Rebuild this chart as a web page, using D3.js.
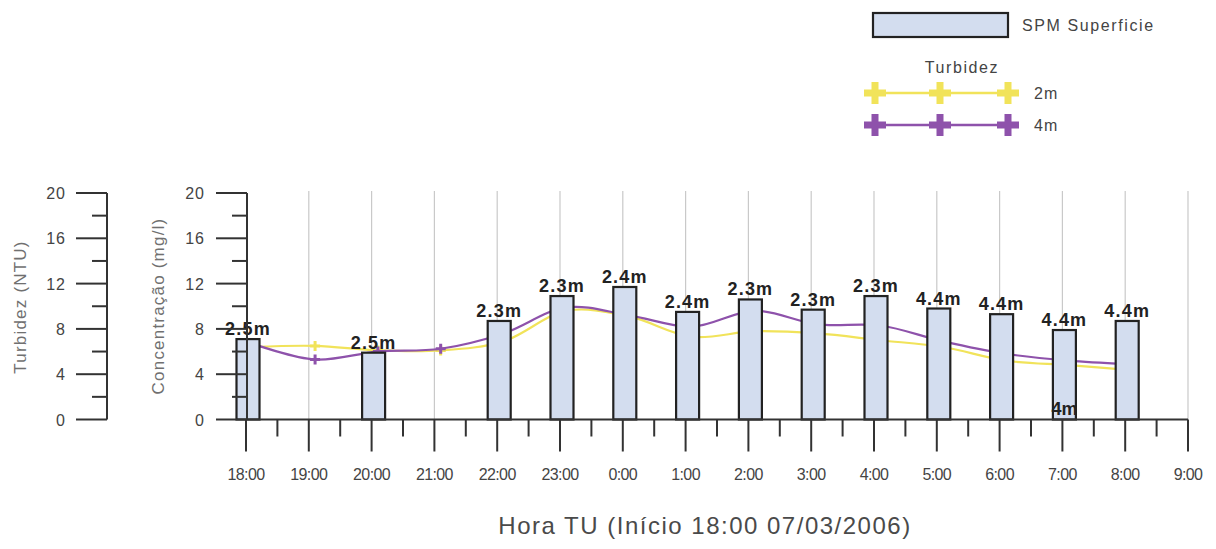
<!DOCTYPE html>
<html>
<head>
<meta charset="utf-8">
<script src="https://cdn.jsdelivr.net/npm/d3@7"></script>
<style>
  html, body { margin: 0; padding: 0; background: #ffffff; }
  svg { display: block; font-family: "Liberation Sans", Arial, sans-serif; }
</style>
</head>
<body>
<svg id="chart" width="1216" height="549"></svg>
<script>
// ---- data ----
const hourLabels = ["18:00","19:00","20:00","21:00","22:00","23:00","0:00","1:00","2:00","3:00","4:00","5:00","6:00","7:00","8:00","9:00"];
const spmValues  = [7.1, null, 5.9, null, 8.7, 10.9, 11.7, 9.5, 10.6, 9.7, 10.9, 9.8, 9.3, 7.9, 8.7, null];
const depthLabels = ["2.5m", null, "2.5m", null, "2.3m", "2.3m", "2.4m", "2.4m", "2.3m", "2.3m", "2.3m", "4.4m", "4.4m", "4.4m", "4.4m", null];
const turbTimes = [0.1, 1.1, 2.1, 3.1, 4.1, 5.1, 6.1, 7.1, 8.1, 9.1, 10.1, 11.1, 12.1, 13.1, 14.0];
const turb2m = [6.4, 6.5, 6.1, 6.1, 6.9, 9.6, 9.1, 7.3, 7.8, 7.6, 7.0, 6.4, 5.2, 4.8, 4.4];
const turb4m = [6.7, 5.3, 6.0, 6.25, 7.6, 9.9, 9.2, 8.2, 9.6, 8.4, 8.3, 6.9, 5.8, 5.2, 4.9];
const yTicks = [0, 4, 8, 12, 16, 20];
const strayLabel = { index: 13, text: "4m" };

// ---- styles ----
const cBarFill = "#d3ddef", cBarStroke = "#222222";
const c2m = "#f1e35a", c4m = "#8e52ab";
const cGrid = "#c9c9c9", cAxis = "#333333", cText = "#444444";

const svg = d3.select("#chart");
const x = d3.scaleLinear().domain([0, 15]).range([246, 1188]);
const y = d3.scaleLinear().domain([0, 20]).range([419.5, 193]);
const barW = 23;

// gridlines
svg.append("g").selectAll("line").data(d3.range(1, 16)).join("line")
  .attr("x1", d => x(d)).attr("x2", d => x(d))
  .attr("y1", y(20) - 2).attr("y2", y(0))
  .attr("stroke", cGrid).attr("stroke-width", 1.2);

// turbidity lines (behind bars)
function drawSeries(vals, color) {
  const pts = vals.map((v, i) => [turbTimes[i], v]);
  const line = d3.line().x(d => x(d[0])).y(d => y(d[1])).curve(d3.curveCatmullRom.alpha(0.5));
  svg.append("path").attr("d", line(pts)).attr("fill", "none")
    .attr("stroke", color).attr("stroke-width", 2.2);
  const g = svg.append("g");
  pts.forEach(d => {
    const cx = x(d[0]), cy = y(d[1]);
    g.append("path").attr("d", `M${cx-5},${cy}H${cx+5}M${cx},${cy-5}V${cy+5}`)
      .attr("stroke", color).attr("stroke-width", 3);
  });
}
drawSeries(turb2m, c2m);
drawSeries(turb4m, c4m);

// bars
const barData = spmValues.map((v, i) => ({ i, v })).filter(d => d.v != null);
svg.append("g").selectAll("rect").data(barData).join("rect")
  .attr("x", d => x(d.i) - barW / 2 + 2).attr("width", barW)
  .attr("y", d => y(d.v)).attr("height", d => y(0) - y(d.v))
  .attr("fill", cBarFill).attr("stroke", cBarStroke).attr("stroke-width", 2.2);

// bar labels
svg.append("g").selectAll("text").data(barData).join("text")
  .attr("x", d => x(d.i) + 2).attr("y", d => y(d.v) - 4)
  .attr("text-anchor", "middle").attr("font-size", 18).attr("font-weight", "bold")
  .attr("letter-spacing", 1.2).attr("fill", "#222").text(d => depthLabels[d.i]);
svg.append("text").attr("x", x(strayLabel.index) + 2).attr("y", y(0) - 5)
  .attr("text-anchor", "middle").attr("font-size", 18).attr("font-weight", "bold")
  .attr("fill", "#222").text(strayLabel.text);

// x axis
const gx = svg.append("g");
gx.append("line").attr("x1", x(0)).attr("x2", x(15)).attr("y1", y(0)).attr("y2", y(0))
  .attr("stroke", cAxis).attr("stroke-width", 2);
gx.selectAll("line.maj").data(d3.range(0, 16)).join("line").attr("class", "maj")
  .attr("x1", d => x(d)).attr("x2", d => x(d)).attr("y1", y(0)).attr("y2", y(0) + 32)
  .attr("stroke", cAxis).attr("stroke-width", 2);
gx.selectAll("line.min").data(d3.range(0.5, 15, 1)).join("line").attr("class", "min")
  .attr("x1", d => x(d)).attr("x2", d => x(d)).attr("y1", y(0)).attr("y2", y(0) + 17)
  .attr("stroke", cAxis).attr("stroke-width", 2);
gx.selectAll("text").data(hourLabels).join("text")
  .attr("x", (d, i) => x(i)).attr("y", 480)
  .attr("text-anchor", "middle").attr("font-size", 16).attr("letter-spacing", -0.6)
  .attr("fill", cText).text(d => d);
svg.append("text").attr("x", 705).attr("y", 534).attr("text-anchor", "middle")
  .attr("font-size", 24).attr("letter-spacing", 1.5).attr("fill", "#4a4a4a")
  .text("Hora TU (Início 18:00 07/03/2006)");

// y axes
function yAxis(ax, labelX, title, titleX, titleY) {
  const g = svg.append("g");
  g.append("line").attr("x1", ax).attr("x2", ax).attr("y1", y(20)).attr("y2", y(0))
    .attr("stroke", cAxis).attr("stroke-width", 2);
  g.selectAll("line.maj").data(yTicks).join("line").attr("class", "maj")
    .attr("x1", ax - 31).attr("x2", ax).attr("y1", d => y(d)).attr("y2", d => y(d))
    .attr("stroke", cAxis).attr("stroke-width", 2);
  g.selectAll("line.min").data(d3.range(2, 20, 4)).join("line").attr("class", "min")
    .attr("x1", ax - 15).attr("x2", ax).attr("y1", d => y(d)).attr("y2", d => y(d))
    .attr("stroke", cAxis).attr("stroke-width", 2);
  g.selectAll("text").data(yTicks).join("text")
    .attr("x", labelX).attr("y", d => y(d) + 6)
    .attr("text-anchor", "end").attr("font-size", 16).attr("letter-spacing", 1)
    .attr("fill", cText).text(d => d);
  svg.append("text").attr("transform", `translate(${titleX},${titleY}) rotate(-90)`)
    .attr("text-anchor", "middle").attr("font-size", 17).attr("letter-spacing", 1.2)
    .attr("fill", "#707070").text(title);
}
yAxis(107, 66, "Turbidez (NTU)", 26, 307);
yAxis(247, 205, "Concentração (mg/l)", 164, 306);

// legend
const lg = svg.append("g");
lg.append("rect").attr("x", 873).attr("y", 13).attr("width", 135).attr("height", 24)
  .attr("fill", cBarFill).attr("stroke", cBarStroke).attr("stroke-width", 2.2);
lg.append("text").attr("x", 1022).attr("y", 31).attr("font-size", 16).attr("fill", "#444")
  .attr("letter-spacing", 1.6).text("SPM Superficie");
lg.append("text").attr("x", 962).attr("y", 73).attr("text-anchor", "middle")
  .attr("font-size", 16).attr("fill", "#444").attr("letter-spacing", 1.6).text("Turbidez");
[{ c: c2m, yy: 93, t: "2m" }, { c: c4m, yy: 125, t: "4m" }].forEach(s => {
  lg.append("line").attr("x1", 874).attr("x2", 1010).attr("y1", s.yy).attr("y2", s.yy)
    .attr("stroke", s.c).attr("stroke-width", 2.5);
  [875, 940, 1008].forEach(px => {
    lg.append("path").attr("d", `M${px-11},${s.yy}H${px+11}M${px},${s.yy-11}V${s.yy+11}`)
      .attr("stroke", s.c).attr("stroke-width", 7);
  });
  lg.append("text").attr("x", 1034).attr("y", s.yy + 6).attr("font-size", 16)
    .attr("letter-spacing", 1).attr("fill", "#444").text(s.t);
});
</script>
</body>
</html>
